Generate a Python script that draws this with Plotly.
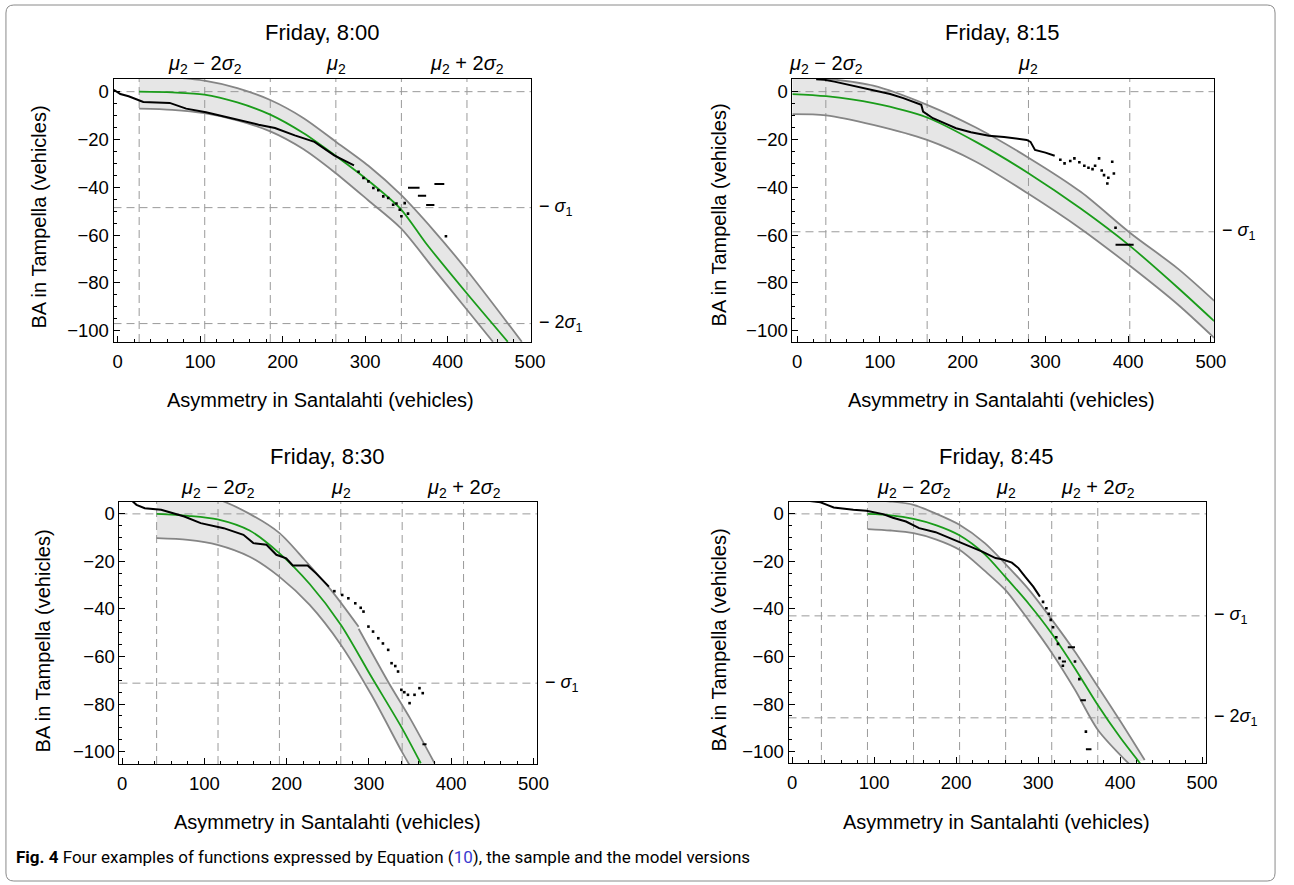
import plotly.graph_objects as go

W, H = 1294, 885
FONT = "Liberation Sans, Arial, sans-serif"

# ---------------- data ----------------
titles = ["Friday, 8:00", "Friday, 8:15", "Friday, 8:30", "Friday, 8:45"]

# model parameters (grid-line positions)
mu2 = [264.5, 279.5, 265.8, 260.4]
sigma2 = [79.5, 122.4, 74.6, 56.2]
sigma1 = [48.5, 58.6, 71.2, 42.9]

# --- panel 1 (8:00)
p1_model_x = [26, 66, 105, 145, 185, 225, 265, 305, 343, 374, 423, 473]
p1_model_y = [0, -0.3, -1.2, -4.5, -9.6, -17.3, -27, -37.5, -49, -63.5, -84.2, -104.6]
p1_up_x = [26, 66, 105, 145, 185, 225, 264, 304, 343, 383, 423, 490]
p1_up_y = [6.5, 6.0, 4.6, 1.5, -3.5, -11, -20.8, -31, -43, -58, -74.5, -104.6]
p1_lo_x = [26, 66, 105, 145, 185, 225, 264, 304, 343, 383, 423, 455]
p1_lo_y = [-7.1, -7.6, -9, -12, -16.6, -24, -34, -45.5, -57, -74, -91, -104.6]
p1_line_x = [-4.8, 3.2, 13.2, 23.2, 31, 63, 83, 107, 126.8, 150.8, 170.8, 190.7, 214.7, 238.6, 262.5, 286.5]
p1_line_y = [0.8, -1.0, -1.9, -3.3, -4.3, -4.7, -7.1, -8.6, -10.3, -12.4, -13.8, -15.2, -18.3, -21, -26.6, -30.8]
p1_dot_x = [292, 298, 304, 310, 316, 322, 328, 334, 338, 342, 348, 344, 352, 398]
p1_dot_y = [-33.5, -36.1, -37.5, -40.3, -41.2, -43.8, -44.5, -47.3, -46.8, -49.4, -46.6, -52.1, -51, -60.5]
p1_dash_x0 = [352, 364, 374, 384]
p1_dash_x1 = [366, 374, 384, 396]
p1_dash_y = [-40.2, -43.5, -47.4, -38.6]

# --- panel 2 (8:15)
p2_model_x = [-6, 35, 92, 157, 216, 279, 343, 402, 460, 504]
p2_model_y = [-1.0, -1.9, -4.8, -10.8, -21, -34, -49, -64.5, -82, -96]
p2_up_x = [-6, 35, 92, 157, 216, 279, 343, 402, 460, 504]
p2_up_y = [7, 5.5, 2.5, -5.5, -15, -27.5, -42, -59, -74, -87.5]
p2_lo_x = [-6, 35, 92, 157, 216, 279, 343, 402, 460, 504]
p2_lo_y = [-9.4, -9.9, -13.9, -20.2, -29.3, -42.6, -57.4, -72.8, -89, -103]
p2_line_x = [23, 33, 45, 60.8, 72, 84.7, 100, 112.4, 128.3, 144.3, 150, 152.2, 164.1, 180, 192, 210, 231.7, 250, 263.5, 277.4, 282, 287.4, 300, 311.2]
p2_line_y = [5.2, 5.0, 4.2, 3.0, 2.0, 0.9, -0.2, -1.0, -2.7, -4.8, -5.5, -8.3, -11.1, -13.5, -15.3, -17, -18.4, -19, -19.5, -20.2, -21, -24.4, -25.5, -26.8]
p2_dot_x = [318, 323.1, 330, 335, 341, 347, 352, 356.9, 360, 364.8, 368, 370.8, 374.8, 376, 380.7, 382.7, 384.7]
p2_dot_y = [-28.5, -30, -29, -27.9, -29.5, -31, -31.8, -32.4, -31, -27.9, -33, -34.9, -38.4, -36, -29.3, -34.2, -56.9]
p2_dash_x0 = [384.7]
p2_dash_x1 = [406.6]
p2_dash_y = [-64]

# --- panel 3 (8:30)
p3_model_x = [42, 80, 116, 155, 191, 228, 266, 303, 340, 363]
p3_model_y = [0, -0.8, -2.3, -7, -16.5, -29.5, -46.7, -68.5, -90, -104.9]
p3_up_x = [42, 80, 116, 155, 191, 222, 255, 287.5, None, 287.5, 324, 350, 380]
p3_up_y = [10, 9, 6.2, 0, -8, -19.4, -32.5, -47.5, None, -48.3, -71, -86, -105]
p3_lo_x = [42, 80, 116, 155, 191, 228, 266, 303, 340, 350]
p3_lo_y = [-10.2, -10.9, -13, -18, -26.4, -38.3, -55.1, -76.1, -100, -106]
p3_line_x = [9.6, 17.5, 27.6, 47.5, 60, 75.6, 95.5, 110, 123.5, 147.5, 159.5, 175.5, 187.5, 199.5, 207.5, 225.5, 235.5, 251.4]
p3_line_y = [6.3, 3.8, 2.4, 1.7, 0.5, -1.1, -3.9, -5, -6, -8.8, -12.3, -13, -17.2, -18.7, -21.7, -21.7, -24.9, -30.6]
p3_dot_x = [258, 267.5, 275, 283.4, 290, 293.4, 299.4, 305, 311.4, 317, 323.4, 327.5, 332, 335.4, 339.4, 343, 347.4, 349.4, 355.4, 361.4, 365.4]
p3_dot_y = [-32.5, -34.1, -35.5, -37.6, -39.5, -41.1, -47.4, -49.5, -52.3, -54.5, -57.2, -62.8, -64, -66.3, -74, -75, -76.1, -79.6, -76.1, -73.3, -75.4]
p3_dash_x0 = [365]
p3_dash_x1 = [370]
p3_dash_y = [-96.9]

# --- panel 4 (8:45)
p4_model_x = [92, 120, 148, 176, 204, 235, 260, 289, 317, 345, 373, 400, 425]
p4_model_y = [0, -0.6, -2.1, -4.8, -9, -17, -26.5, -38, -50.5, -65, -80.5, -94, -105.2]
p4_up_x = [92, 120, 148, 176, 204, 235, 260, 289, 317, 345, 373, 400, 430]
p4_up_y = [5.9, 5.2, 3.8, 0, -4.6, -12.3, -21, -32, -44.6, -58, -72.7, -87, -103.5]
p4_lo_x = [92, 120, 148, 176, 204, 235, 260, 289, 317, 345, 373, 411]
p4_lo_y = [-6.4, -7, -8.1, -10.8, -15.1, -24, -32, -45, -58.6, -74, -90.9, -105.2]
p4_line_x = [2.4, 18.4, 34.4, 42.5, 50.6, 74.6, 90.6, 110.7, 122.8, 138.8, 154.8, 174.9, 190.9, 211, 231.9, 248, 255.9, 268, 276, 284.1, 294.1, 302.2]
p4_line_y = [6.2, 5.5, 4.9, 3.8, 2.7, 1.7, 1.3, -0.1, -1.6, -3.2, -6, -7.7, -10, -13, -15.9, -18.6, -19.1, -20.5, -22.8, -26.4, -30.6, -34.8]
p4_dot_x = [306, 310.1, 313, 315.4, 318.2, 322.2, 324.2, 326.2, 330.2, 345, 350.3, 358.3]
p4_dot_y = [-37, -39.7, -42, -44.6, -47.7, -51.9, -54.7, -60.7, -63.9, -62.1, -69.5, -91.6]
p4_dash_x0 = [336.2, 329, 351.5, 358.3]
p4_dash_x1 = [345, 334, 358.3, 365.1]
p4_dash_y = [-56.1, -62.1, -78.4, -99]

x_ticks = [0, 100, 200, 300, 400, 500]
y_ticks = [-100, -80, -60, -40, -20, 0]
top_label_k = [[-2, 0, 2], [-2, 0], [-2, 0, 2], [-2, 0, 2]]
right_label_k = [[1, 2], [1], [1], [1, 2]]
grid_k = [[-3, -2, -1, 0, 1, 2], [-2, -1, 0, 1], [-3, -2, -1, 0, 1, 2], [-4, -3, -2, -1, 0, 1, 2]]

panels = [
    dict(mx=p1_model_x, my=p1_model_y, ux=p1_up_x, uy=p1_up_y, lx=p1_lo_x, ly=p1_lo_y,
         sx=p1_line_x, sy=p1_line_y, dx=p1_dot_x, dy=p1_dot_y, d0=p1_dash_x0, d1=p1_dash_x1, dyy=p1_dash_y),
    dict(mx=p2_model_x, my=p2_model_y, ux=p2_up_x, uy=p2_up_y, lx=p2_lo_x, ly=p2_lo_y,
         sx=p2_line_x, sy=p2_line_y, dx=p2_dot_x, dy=p2_dot_y, d0=p2_dash_x0, d1=p2_dash_x1, dyy=p2_dash_y),
    dict(mx=p3_model_x, my=p3_model_y, ux=p3_up_x, uy=p3_up_y, lx=p3_lo_x, ly=p3_lo_y,
         sx=p3_line_x, sy=p3_line_y, dx=p3_dot_x, dy=p3_dot_y, d0=p3_dash_x0, d1=p3_dash_x1, dyy=p3_dash_y),
    dict(mx=p4_model_x, my=p4_model_y, ux=p4_up_x, uy=p4_up_y, lx=p4_lo_x, ly=p4_lo_y,
         sx=p4_line_x, sy=p4_line_y, dx=p4_dot_x, dy=p4_dot_y, d0=p4_dash_x0, d1=p4_dash_x1, dyy=p4_dash_y),
]

# ---------------- layout geometry (pixels) ----------------
boxes = [  # left, right, top, bottom
    (113, 536, 79, 342),
    (801, 1228, 79, 342),
    (119, 542, 502, 764),
    (797, 1220, 502, 763),
]
x_ranges = [[-5.1, 501.1], [-5.6, 503.5], [-3.2, 504.1], [-4.5, 504.8]]
y_ranges = [[-104.7, 5.3], [-104.7, 5.3], [-105.2, 5.0], [-104.8, 5.0]]
title_pos = [(325, 32), (1014, 32), (330, 456), (1008, 456)]
xtitle_pos = [(323, 400), (1013, 400), (330, 822), (1008, 822)]
ytitle_pos = [(37, 217), (727, 215), (42, 641), (727, 640)]
top_label_y = [65, 65, 488, 488]


def px(x):
    return x / W


def py(y):
    return 1 - y / H


fig = go.Figure()
layout = dict(
    width=W, height=H, margin=dict(l=0, r=0, t=0, b=0),
    paper_bgcolor="white", plot_bgcolor="white",
    showlegend=False, font=dict(family=FONT, color="black", size=16),
)
annotations = []
shapes = []

GREEN = "#1a9c1a"
BANDLINE = "#858585"
GRID = "#9a9a9a"
TICKFONT = dict(size=18.5, family=FONT, color="black")


def ann(text, x, y, xref="paper", yref="paper", size=20, **kw):
    d = dict(text=text, x=x, y=y, xref=xref, yref=yref, showarrow=False,
             xanchor=kw.pop("xanchor", "center"), yanchor=kw.pop("yanchor", "middle"),
             font=dict(size=size, family=kw.pop("family", FONT), color="black"))
    d.update(kw)
    annotations.append(d)


for i, p in enumerate(panels):
    n = i + 1
    xa = "x" if n == 1 else f"x{n}"
    ya = "y" if n == 1 else f"y{n}"
    L, R, T, B = boxes[i]
    layout[f"xaxis{'' if n == 1 else n}"] = dict(
        domain=[px(L), px(R)], range=x_ranges[i], anchor=ya,
        showline=True, linecolor="black", linewidth=1, mirror=True,
        ticks="inside", ticklen=6, tickcolor="black", tickvals=x_ticks,
        minor=dict(ticks="inside", ticklen=3, dtick=20, tick0=0, tickcolor="black"),
        showgrid=False, zeroline=False, tickfont=TICKFONT,
        ticklabelstandoff=3,
    )
    layout[f"yaxis{'' if n == 1 else n}"] = dict(
        domain=[py(B), py(T)], range=y_ranges[i], anchor=xa,
        showline=True, linecolor="black", linewidth=1, mirror=True,
        ticks="inside", ticklen=6, tickcolor="black", tickvals=y_ticks,
        minor=dict(ticks="inside", ticklen=3, dtick=5, tick0=0, tickcolor="black"),
        showgrid=False, zeroline=False, tickfont=TICKFONT,
    )

    # dashed grid lines
    for k in grid_k[i]:
        xv = mu2[i] + k * sigma2[i]
        shapes.append(dict(type="line", xref=xa, yref=f"{ya} domain", x0=xv, x1=xv, y0=0, y1=1,
                           line=dict(color=GRID, width=1, dash="8px,5px"), layer="below"))
    for yv in [0] + [-k * sigma1[i] for k in right_label_k[i]]:
        shapes.append(dict(type="line", xref=f"{xa} domain", yref=ya, x0=0, x1=1, y0=yv, y1=yv,
                           line=dict(color=GRID, width=1, dash="8px,5px"), layer="below"))

    # confidence band fill
    ux = [v for v in p["ux"] if v is not None]
    uy = [v for v in p["uy"] if v is not None]
    bx = ux + p["lx"][::-1]
    by = uy + p["ly"][::-1]
    fig.add_trace(go.Scatter(x=bx, y=by, xaxis=xa, yaxis=ya, mode="lines", fill="toself",
                             fillcolor="rgba(150,150,150,0.24)", line=dict(width=0),
                             hoverinfo="skip"))
    # band edges
    fig.add_trace(go.Scatter(x=p["ux"], y=p["uy"], xaxis=xa, yaxis=ya, mode="lines",
                             line=dict(color=BANDLINE, width=1.8, shape="spline", smoothing=0.8),
                             connectgaps=False))
    fig.add_trace(go.Scatter(x=p["lx"], y=p["ly"], xaxis=xa, yaxis=ya, mode="lines",
                             line=dict(color=BANDLINE, width=1.8, shape="spline", smoothing=0.8)))
    # model curve
    fig.add_trace(go.Scatter(x=p["mx"], y=p["my"], xaxis=xa, yaxis=ya, mode="lines",
                             line=dict(color=GREEN, width=1.8, shape="spline", smoothing=0.8)))
    # sample
    fig.add_trace(go.Scatter(x=p["sx"], y=p["sy"], xaxis=xa, yaxis=ya, mode="lines",
                             line=dict(color="black", width=2)))
    fig.add_trace(go.Scatter(x=p["dx"], y=p["dy"], xaxis=xa, yaxis=ya, mode="markers",
                             marker=dict(color="black", size=2.6, symbol="square")))
    segx, segy = [], []
    for a, b, c in zip(p["d0"], p["d1"], p["dyy"]):
        segx += [a, b, None]
        segy += [c, c, None]
    fig.add_trace(go.Scatter(x=segx, y=segy, xaxis=xa, yaxis=ya, mode="lines",
                             line=dict(color="black", width=2)))

    # texts
    tx, ty = title_pos[i]
    ann(titles[i], px(tx), py(ty), size=22)
    xx, xy = xtitle_pos[i]
    ann("Asymmetry in Santalahti (vehicles)", px(xx), py(xy), size=20)
    yx, yy = ytitle_pos[i]
    ann("BA in Tampella (vehicles)", px(yx), py(yy), size=20, textangle=-90)
    for k in top_label_k[i]:
        if k == 0:
            t = "<i>μ</i><sub>2</sub>"
        elif k < 0:
            t = f"<i>μ</i><sub>2</sub> − {abs(k)}<i>σ</i><sub>2</sub>"
        else:
            t = f"<i>μ</i><sub>2</sub> + {k}<i>σ</i><sub>2</sub>"
        ann(t, mu2[i] + k * sigma2[i], py(top_label_y[i]), xref=xa, size=20)
    for k in right_label_k[i]:
        t = "− <i>σ</i><sub>1</sub>" if k == 1 else f"− {k}<i>σ</i><sub>1</sub>"
        ann(t, px(R + 6), -k * sigma1[i], yref=ya, size=18, xanchor="left")

# caption
ann("<b>Fig. 4</b> Four examples of functions expressed by Equation (<span style='color:#3a3ad0'>10</span>), the sample and the model versions",
    px(12), py(857), size=17, xanchor="left", family="Roboto, Open Sans, sans-serif")

# rounded border
r = 8
l0, r0, t0, b0 = 4, 1290, 5, 881
path = (f"M {px(l0 + r)},{py(t0)} L {px(r0 - r)},{py(t0)} Q {px(r0)},{py(t0)} {px(r0)},{py(t0 + r)} "
        f"L {px(r0)},{py(b0 - r)} Q {px(r0)},{py(b0)} {px(r0 - r)},{py(b0)} "
        f"L {px(l0 + r)},{py(b0)} Q {px(l0)},{py(b0)} {px(l0)},{py(b0 - r)} "
        f"L {px(l0)},{py(t0 + r)} Q {px(l0)},{py(t0)} {px(l0 + r)},{py(t0)} Z")
shapes.append(dict(type="path", xref="paper", yref="paper", path=path,
                   line=dict(color="#8a8a8a", width=1)))

layout["annotations"] = annotations
layout["shapes"] = shapes
fig.update_layout(**layout)
fig.write_html("out.html")
